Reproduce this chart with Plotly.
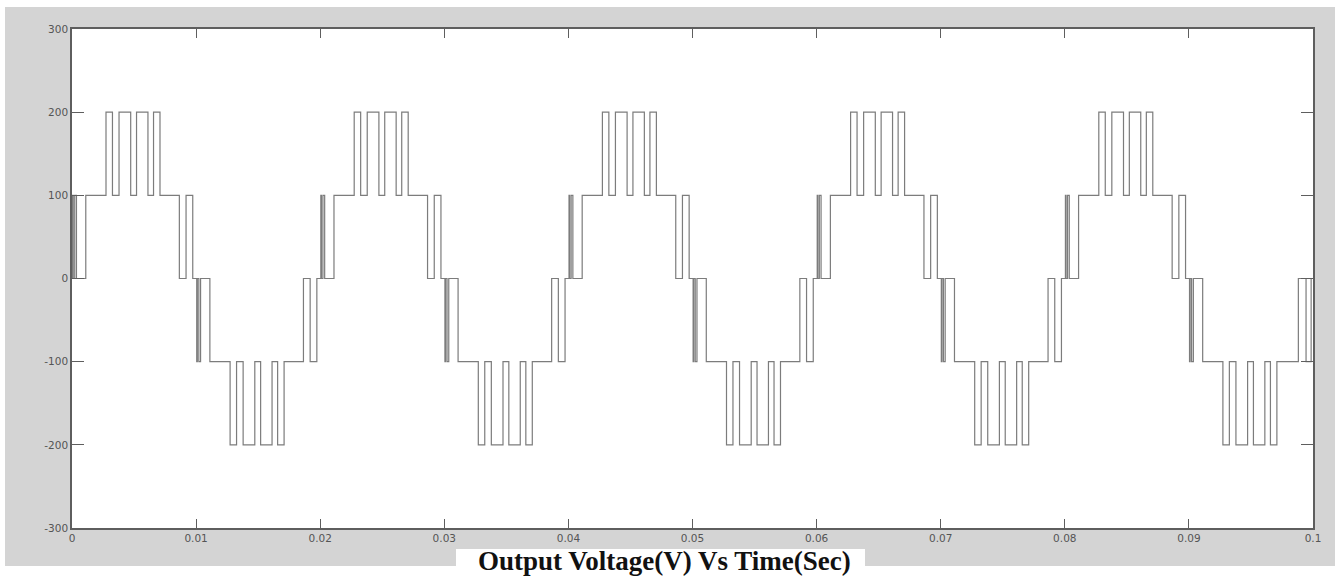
import plotly.graph_objects as go

# Switching instants (s) of the multilevel inverter output and the level after each switch (V)
switch_times = [
    0.00005, 0.00010, 0.00022, 0.00036, 0.00111, 0.00274, 0.00326, 0.00379, 0.00473, 0.00520, 0.00612, 0.00657, 0.00709, 0.00865, 0.00919, 0.00973,
    0.01005, 0.01010, 0.01022, 0.01036, 0.01111, 0.01274, 0.01326, 0.01379, 0.01473, 0.01520, 0.01612, 0.01657, 0.01709, 0.01865, 0.01919, 0.01973,
    0.02005, 0.02010, 0.02022, 0.02036, 0.02111, 0.02274, 0.02326, 0.02379, 0.02473, 0.02520, 0.02612, 0.02657, 0.02709, 0.02865, 0.02919, 0.02973,
    0.03005, 0.03010, 0.03022, 0.03036, 0.03111, 0.03274, 0.03326, 0.03379, 0.03473, 0.03520, 0.03612, 0.03657, 0.03709, 0.03865, 0.03919, 0.03973,
    0.04005, 0.04010, 0.04022, 0.04036, 0.04111, 0.04274, 0.04326, 0.04379, 0.04473, 0.04520, 0.04612, 0.04657, 0.04709, 0.04865, 0.04919, 0.04973,
    0.05005, 0.05010, 0.05022, 0.05036, 0.05111, 0.05274, 0.05326, 0.05379, 0.05473, 0.05520, 0.05612, 0.05657, 0.05709, 0.05865, 0.05919, 0.05973,
    0.06005, 0.06010, 0.06022, 0.06036, 0.06111, 0.06274, 0.06326, 0.06379, 0.06473, 0.06520, 0.06612, 0.06657, 0.06709, 0.06865, 0.06919, 0.06973,
    0.07005, 0.07010, 0.07022, 0.07036, 0.07111, 0.07274, 0.07326, 0.07379, 0.07473, 0.07520, 0.07612, 0.07657, 0.07709, 0.07865, 0.07919, 0.07973,
    0.08005, 0.08010, 0.08022, 0.08036, 0.08111, 0.08274, 0.08326, 0.08379, 0.08473, 0.08520, 0.08612, 0.08657, 0.08709, 0.08865, 0.08919, 0.08973,
    0.09005, 0.09010, 0.09022, 0.09036, 0.09111, 0.09274, 0.09326, 0.09379, 0.09473, 0.09520, 0.09612, 0.09657, 0.09709, 0.09882, 0.09944, 0.09985,
]
switch_levels = [
    100, 0, 100, 0, 100, 200, 100, 200, 100, 200, 100, 200, 100, 0, 100, 0,
    -100, 0, -100, 0, -100, -200, -100, -200, -100, -200, -100, -200, -100, 0, -100, 0,
    100, 0, 100, 0, 100, 200, 100, 200, 100, 200, 100, 200, 100, 0, 100, 0,
    -100, 0, -100, 0, -100, -200, -100, -200, -100, -200, -100, -200, -100, 0, -100, 0,
    100, 0, 100, 0, 100, 200, 100, 200, 100, 200, 100, 200, 100, 0, 100, 0,
    -100, 0, -100, 0, -100, -200, -100, -200, -100, -200, -100, -200, -100, 0, -100, 0,
    100, 0, 100, 0, 100, 200, 100, 200, 100, 200, 100, 200, 100, 0, 100, 0,
    -100, 0, -100, 0, -100, -200, -100, -200, -100, -200, -100, -200, -100, 0, -100, 0,
    100, 0, 100, 0, 100, 200, 100, 200, 100, 200, 100, 200, 100, 0, 100, 0,
    -100, 0, -100, 0, -100, -200, -100, -200, -100, -200, -100, -200, -100, 0, -100, 0,
]
start_time = 0.0
start_level = 0
end_time = 0.1

x_tick_vals = [0, 0.01, 0.02, 0.03, 0.04, 0.05, 0.06, 0.07, 0.08, 0.09, 0.1]
x_tick_text = ["0", "0.01", "0.02", "0.03", "0.04", "0.05", "0.06", "0.07", "0.08", "0.09", "0.1"]
y_tick_vals = [-300, -200, -100, 0, 100, 200, 300]
y_tick_text = ["-300", "-200", "-100", "0", "100", "200", "300"]
title_text = "Output Voltage(V) Vs Time(Sec)"

W, H = 1335, 576
L, R, T, B = 72, 1313, 29, 528


def px_x(x):
    return (x - L) / (R - L)


def px_y(y):
    return (B - y) / (B - T)


GRAY_BG = "#d4d4d4"
AXIS = "#5e5e5e"

fig = go.Figure()
fig.add_trace(go.Scatter(
    x=[start_time] + switch_times + [end_time],
    y=[start_level] + switch_levels + [switch_levels[-1]],
    mode="lines",
    line=dict(shape="hv", color="#7c7c7c", width=1.2),
    hoverinfo="skip",
    showlegend=False,
))

shapes = []
white_boxes = [
    (0, 0, W, 7),        # top strip
    (0, 0, 5, H),        # left strip
    (0, 566, W, H),      # bottom strip
    (456, 549, 865, H),  # title box
]
for x0, y0, x1, y1 in white_boxes:
    shapes.append(dict(type="rect", xref="paper", yref="paper",
                       x0=px_x(x0), x1=px_x(x1), y0=px_y(y1), y1=px_y(y0),
                       fillcolor="white", line=dict(width=0), layer="above"))

fig.update_layout(
    width=W, height=H,
    margin=dict(l=L, r=W - R, t=T, b=H - B, pad=0),
    paper_bgcolor=GRAY_BG,
    plot_bgcolor="white",
    shapes=shapes,
    xaxis=dict(
        range=[0, 0.1], tickvals=x_tick_vals, ticktext=x_tick_text,
        ticks="inside", ticklen=9, tickwidth=1.3, tickcolor=AXIS,
        showline=True, linecolor=AXIS, linewidth=1.6, mirror="ticks",
        showgrid=False, zeroline=False,
        tickfont=dict(family="DejaVu Sans", size=10.5, color="#555555"),
    ),
    yaxis=dict(
        range=[-300, 300], tickvals=y_tick_vals, ticktext=y_tick_text,
        ticks="inside", ticklen=12, tickwidth=1.3, tickcolor=AXIS,
        showline=True, linecolor=AXIS, linewidth=1.6, mirror="ticks",
        showgrid=False, zeroline=False,
        tickfont=dict(family="DejaVu Sans", size=10.5, color="#555555"),
    ),
    annotations=[dict(
        text="<b>" + title_text + "</b>", xref="paper", yref="paper",
        x=px_x(664), y=px_y(H + 2), xanchor="center", yanchor="bottom",
        showarrow=False,
        font=dict(family="Liberation Serif", size=27, color="#111111"),
    )],
)

fig.write_html("out.html")
